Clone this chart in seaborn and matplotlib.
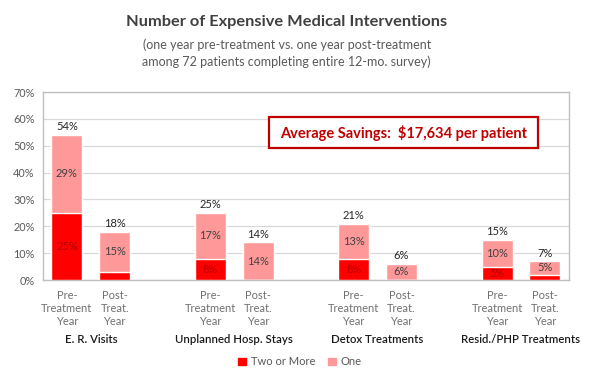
import matplotlib
matplotlib.use("Agg")
import matplotlib.pyplot as plt
from matplotlib.patches import Patch, Rectangle
import seaborn as sns
import pandas as pd

# Data
groups = ["E. R. Visits", "Unplanned Hosp. Stays", "Detox Treatments", "Resid./PHP Treatments"]
periods = ["Pre-\nTreatment\nYear", "Post-\nTreat.\nYear"]
two_or_more = [25, 3, 8, 0, 8, 0, 5, 2]
one = [29, 15, 17, 14, 13, 6, 10, 5]
totals = [54, 18, 25, 14, 21, 6, 15, 7]

# slot positions: two bars per group with an empty slot between groups
pos = [0, 1, 3, 4, 6, 7, 9, 10]
df = pd.DataFrame({"pos": pos, "two": two_or_more, "one": one, "total": totals})

dark = "#FF0000"
light = "#FF9999"
gray = "#595959"
tick_gray = "#707070"

sns.set_style("white")
plt.rcParams["font.family"] = ["Lato", "DejaVu Sans"]

fig = plt.figure(figsize=(6, 3.81), dpi=100)
ax = fig.add_axes([0.0717, 0.265, 0.8763, 0.4935])

# light bar = full total, dark bar drawn over it from zero
sns.barplot(data=df, x="pos", y="total", native_scale=True, color=light,
            width=0.65, saturation=1, ax=ax, zorder=2)
sns.barplot(data=df, x="pos", y="two", native_scale=True, color=dark,
            width=0.65, saturation=1, ax=ax, zorder=3)

ax.set_xlim(-0.5, 10.5)
ax.set_ylim(0, 70)
ax.set_yticks(range(0, 71, 10))
ax.set_yticklabels([f"{v}%" for v in range(0, 71, 10)], fontsize=7.8, color=gray)
ax.grid(axis="y", color="#D9D9D9", linewidth=0.9, zorder=0)
ax.set_axisbelow(True)
for s in ax.spines.values():
    s.set_color("#BFBFBF")
    s.set_linewidth(1)
ax.tick_params(axis="y", length=0, pad=6)
ax.tick_params(axis="x", length=0, pad=7)
ax.set_xlabel("")
ax.set_ylabel("")

ax.set_xticks(pos)
ax.set_xticklabels(periods * 4, fontsize=8, color=tick_gray, linespacing=1.25)

# value labels
for p, d, o, t in zip(pos, two_or_more, one, totals):
    ax.text(p, t + 1.0, f"{t}%", ha="center", va="bottom", fontsize=8, color="#262626")
    ax.text(p, d + o / 2, f"{o}%", ha="center", va="center", fontsize=8, color="#404040")
    if d >= 5:
        ax.text(p, d / 2, f"{d}%", ha="center", va="center", fontsize=8, color="#B00000")

# group names under the tick labels
for i, g in enumerate(groups):
    x = (pos[2 * i] + pos[2 * i + 1]) / 2
    ax.text(x, -22.3, g, ha="center", va="center", fontsize=8.2, color="#1a1a1a",
            fontweight="semibold")

# savings box
ax.add_patch(Rectangle((4.22, 49.1), 5.64, 11.5, facecolor="white", edgecolor="#C00000",
                       linewidth=1.6, zorder=5))
ax.text(7.04, 54.9, "Average Savings:  $17,634 per patient", ha="center", va="center",
        fontsize=10.5, fontweight="bold", color="#C00000", zorder=6)

fig.text(0.478, 0.943, "Number of Expensive Medical Interventions", ha="center",
         va="center", fontsize=11.8, fontweight="bold", color="#404040")
fig.text(0.478, 0.861, "(one year pre-treatment vs. one year post-treatment\n"
         "among 72 patients completing entire 12-mo. survey)", ha="center",
         va="center", fontsize=9, color="#595959", linespacing=1.45)

handles = [Patch(color=dark, label="Two or More"), Patch(color=light, label="One")]
fig.legend(handles=handles, loc="center", bbox_to_anchor=(0.5, 0.05), ncol=2,
           frameon=False, fontsize=8, handlelength=0.7, handleheight=0.7,
           columnspacing=1.2, handletextpad=0.4, labelcolor=gray)

fig.savefig("out.png", dpi=100)
